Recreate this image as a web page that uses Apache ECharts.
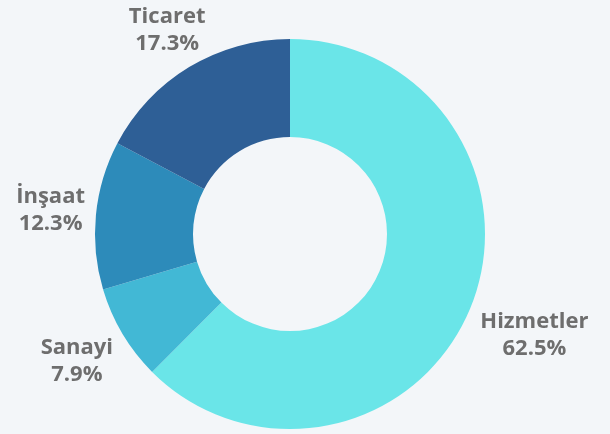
<!DOCTYPE html>
<html>
<head>
<meta charset="utf-8">
<script src="https://cdn.jsdelivr.net/npm/echarts@6/dist/echarts.min.js"></script>
<style>
html, body { margin: 0; padding: 0; background: #f3f6f9; }
#chart { width: 610px; height: 434px; }
</style>
</head>
<body>
<div id="chart"></div>
<script>
// sektör payları (%)
var sectors = ['Hizmetler', 'Sanayi', 'İnşaat', 'Ticaret']
var shares = [62.5, 7.9, 12.3, 17.3]
var colors = ['#6ae5e8', '#42b8d5', '#2d8bba', '#2e5f96']

function buildData() {
	var arr = []
	for(var i = 0; i < sectors.length; i ++) {
		arr.push({
			name: sectors[i],
			value: shares[i],
			itemStyle: { color: colors[i] }
		})
	}
	return arr
}

// etiketi, yakın kenarı dilim çizgisinin ucuna değecek şekilde ortala
function placeLabel(params) {
	var pts = params.labelLinePoints
	if(!pts) return {}
	var ux = pts[1][0] - pts[0][0]
	var uy = pts[1][1] - pts[0][1]
	var len = Math.sqrt(ux * ux + uy * uy) || 1
	ux /= len
	uy /= len
	var hw = params.labelRect.width / 2
	var hh = params.labelRect.height / 2
	var t = Math.min(Math.abs(ux) > 1e-6 ? hw / Math.abs(ux) : 1e9,
		Math.abs(uy) > 1e-6 ? hh / Math.abs(uy) : 1e9)
	return {
		x: pts[1][0] + ux * t,
		y: pts[1][1] + uy * t,
		align: 'center',
		verticalAlign: 'middle'
	}
}

var chart = echarts.init(document.getElementById('chart'))
var option = {
	backgroundColor: '#f3f6f9',
	animation: false,
	series: [{
		type: 'pie',
		center: [290, 234],
		radius: [97, 195],
		startAngle: 90,
		clockwise: true,
		avoidLabelOverlap: false,
		data: buildData(),
		label: {
			show: true,
			position: 'outside',
			formatter: '{b}\n{c}%',
			fontFamily: 'Open Sans',
			fontWeight: 'bold',
			fontSize: 22,
			lineHeight: 27,
			color: '#6e6e6e'
		},
		labelLine: {
			show: true,
			length: 11,
			length2: 0,
			lineStyle: { opacity: 0, width: 0 }
		},
		labelLayout: placeLabel,
		emphasis: { disabled: true }
	}]
}
chart.setOption(option)
</script>
</body>
</html>
